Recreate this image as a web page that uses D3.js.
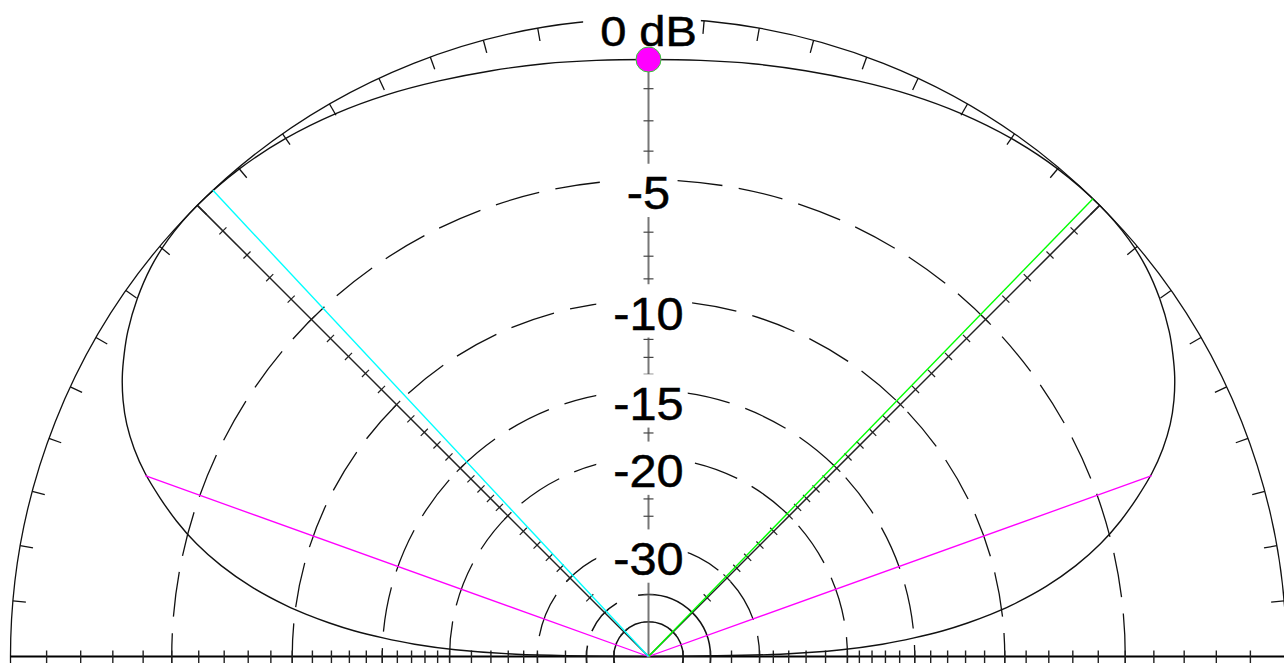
<!DOCTYPE html>
<html><head><meta charset="utf-8">
<script src="https://cdn.jsdelivr.net/npm/d3@7"></script>
<style>html,body{margin:0;padding:0;background:#fff;overflow:hidden}</style>
</head><body>
<svg id="chart" width="1284" height="663"></svg>
<script>
// ---------- data (elevation angle in degrees, 0 = right horizon, 180 = left horizon) ----------
const patternAngles = [0,1,2,3,4,5,6,7,8,10,12,14,16,18,20,22,24,26,28,30,32,35,38,41,45,50,55,60,65,70,75,80,85,90,
  95,100,105,110,115,120,125,130,135,139,142,145,148,150,152,154,156,158,160,162,164,166,168,170,172,173,174,175,176,177,178,179,180];
const patternDb = [-99,-27,-20.5,-17.2,-15.0,-13.2,-11.8,-10.6,-9.55,-7.85,-6.5,-5.4,-4.5,-3.72,-3.0,-2.4,-1.9,-1.5,-1.17,-0.9,-0.66,-0.38,-0.17,-0.05,0,-0.04,-0.15,-0.31,-0.5,-0.7,-0.87,-1.0,-1.1,-1.14,
  -1.1,-1.0,-0.87,-0.7,-0.5,-0.31,-0.15,-0.04,0,-0.05,-0.17,-0.38,-0.66,-0.9,-1.17,-1.5,-1.9,-2.4,-3.0,-3.72,-4.5,-5.4,-6.5,-7.85,-9.55,-10.6,-11.8,-13.2,-15.0,-17.2,-20.5,-27,-99];
const ringDashedDb = [-5,-10,-15,-20,-30];
const ringSolidDb = [-50];
const ringBrokenDb = [-40];
const ringLabels = ["0 dB","-5","-10","-15","-20","-30"];
const ringLabelDb = [0,-5,-10,-15,-20,-30];
const tickDb = [-1,-2,-3,-4,-5,-6,-7,-8,-9,-10,-11,-12,-13,-14,-15,-16,-17,-18,-19,-20,-22,-24,-26,-28,-30,-35,-40,-50];
const azimuthTicks = d3.range(5, 180, 5);
const gridRadials = [45, 135];
const maxBeamAngles = [45.84, 133.06];
const maxBeamColors = ["#00ff00", "#00ffff"];
const halfPowerAngles = [19.76, 160.24];
const halfPowerDb = -3.03;
const peakMarkerAngle = 90;
const peakMarkerDb = -1.14;

// ---------- geometry ----------
const W = 1284, H = 663, cx = 648.5, cy = 656.5, R = 638;
const svg = d3.select("#chart");
// ARRL log-periodic scale: each 2 dB => x0.89 radius  <=> power-law on linear power ratio
const rScale = d3.scalePow().exponent(-5 * Math.log10(0.89)).domain([0, 1]).range([0, R]);
const rOf = db => rScale(Math.pow(10, db / 10));
const aScale = d3.scaleLinear().domain([0, 180]).range([Math.PI / 2, -Math.PI / 2]);
const pt = (deg, r) => [cx + r * Math.sin(aScale(deg)), cy - r * Math.cos(aScale(deg))];

const g = svg.append("g");

// outer 0 dB circle
g.append("circle").attr("cx", cx).attr("cy", cy).attr("r", rOf(0))
  .attr("fill", "none").attr("stroke", "#111").attr("stroke-width", 1.3);

// azimuth ticks on outer circle (inward)
g.selectAll("line.az").data(azimuthTicks).join("line").attr("class", "az")
  .attr("x1", d => pt(d, R)[0]).attr("y1", d => pt(d, R)[1])
  .attr("x2", d => pt(d, R - 13)[0]).attr("y2", d => pt(d, R - 13)[1])
  .attr("stroke", "#111").attr("stroke-width", 1.3);

// dashed dB rings
g.selectAll("circle.dash").data(ringDashedDb).join("circle").attr("class", "dash")
  .attr("cx", cx).attr("cy", cy).attr("r", d => rOf(d))
  .attr("fill", "none").attr("stroke", "#111").attr("stroke-width", 1.3)
  .attr("stroke-dasharray", "45,16.5");
g.selectAll("circle.solid").data(ringSolidDb).join("circle").attr("class", "solid")
  .attr("cx", cx).attr("cy", cy).attr("r", d => rOf(d))
  .attr("fill", "none").attr("stroke", "#111").attr("stroke-width", 1.5);
g.selectAll("circle.broken").data(ringBrokenDb).join("circle").attr("class", "broken")
  .attr("cx", cx).attr("cy", cy).attr("r", d => rOf(d))
  .attr("fill", "none").attr("stroke", "#111").attr("stroke-width", 1.5)
  .attr("stroke-dasharray", "205.6,15.1,38,22.7,200");

// horizontal axis
g.append("line").attr("x1", cx - R).attr("y1", cy).attr("x2", W + 5).attr("y2", cy)
  .attr("stroke", "#000").attr("stroke-width", 2);
const hTicks = [];
tickDb.forEach(db => { hTicks.push(cx - rOf(db)); hTicks.push(cx + rOf(db)); });
g.selectAll("line.ht").data(hTicks).join("line").attr("class", "ht")
  .attr("x1", d => d).attr("x2", d => d).attr("y1", cy - 6).attr("y2", cy + 7)
  .attr("stroke", "#222").attr("stroke-width", 1.4);

// 45 degree grid radials with dB ticks
gridRadials.forEach(a => {
  const e = pt(a, R);
  g.append("line").attr("x1", cx).attr("y1", cy).attr("x2", e[0]).attr("y2", e[1])
    .attr("stroke", "#222").attr("stroke-width", 1.5);
  const ang = aScale(a);
  const px = Math.cos(ang), py = Math.sin(ang); // perpendicular direction
  g.selectAll(null).data(tickDb).join("line")
    .attr("x1", d => pt(a, rOf(d))[0] - 5 * px).attr("y1", d => pt(a, rOf(d))[1] - 5 * py)
    .attr("x2", d => pt(a, rOf(d))[0] + 5 * px).attr("y2", d => pt(a, rOf(d))[1] + 5 * py)
    .attr("stroke", "#222").attr("stroke-width", 1.2);
});

// vertical axis (to pattern peak marker)
const topR = rOf(peakMarkerDb);
g.append("line").attr("x1", cx).attr("y1", cy).attr("x2", cx).attr("y2", cy - topR)
  .attr("stroke", "#777").attr("stroke-width", 2);
g.selectAll("line.vt").data(tickDb.filter(d => rOf(d) < topR)).join("line").attr("class", "vt")
  .attr("x1", cx - 5).attr("x2", cx + 5)
  .attr("y1", d => cy - rOf(d)).attr("y2", d => cy - rOf(d))
  .attr("stroke", "#444").attr("stroke-width", 1.2);

// pattern
const patternData = patternAngles.map((a, i) => ({a: a, db: patternDb[i]}));
const radial = d3.lineRadial().angle(d => aScale(d.a)).radius(d => rOf(d.db))
  .curve(d3.curveCatmullRom.alpha(0.5));
g.append("path").attr("transform", `translate(${cx},${cy})`).attr("d", radial(patternData))
  .attr("fill", "none").attr("stroke", "#111").attr("stroke-width", 1.4);

// half power lines
g.selectAll("line.hp").data(halfPowerAngles).join("line").attr("class", "hp")
  .attr("x1", cx).attr("y1", cy)
  .attr("x2", d => pt(d, rOf(halfPowerDb))[0]).attr("y2", d => pt(d, rOf(halfPowerDb))[1])
  .attr("stroke", "#ff00ff").attr("stroke-width", 1.3);

// max beam lines
g.selectAll("line.mb").data(maxBeamAngles).join("line").attr("class", "mb")
  .attr("x1", cx).attr("y1", cy)
  .attr("x2", d => pt(d, R)[0]).attr("y2", d => pt(d, R)[1])
  .attr("stroke", (d, i) => maxBeamColors[i]).attr("stroke-width", 1.4);

// labels
ringLabels.forEach((txt, i) => {
  const yc = cy - rOf(ringLabelDb[i]);
  const isTop = i === 0;
  const fs = isTop ? 42 : 46;
  const sx = isTop ? 1.12 : 1.06;
  const digitTop = yc - (isTop ? 3 : 4);
  const digitH = isTop ? 30.5 : 33.3;
  const baseline = digitTop + digitH;
  const rect = g.append("rect").attr("fill", "#fff");
  const t = g.append("text").text(txt)
    .attr("transform", `translate(${cx},${baseline}) scale(${sx},1)`)
    .attr("text-anchor", "middle")
    .attr("font-family", "'Liberation Sans', Arial, sans-serif")
    .attr("font-size", fs).attr("fill", "#000")
    .attr("stroke", "#000").attr("stroke-width", 0.5);
  const bb = t.node().getBBox();
  rect.attr("x", cx + bb.x * sx - 17).attr("width", bb.width * sx + 21)
    .attr("y", digitTop - 12).attr("height", digitH + 20);
});

// peak marker
const pm = pt(peakMarkerAngle, topR);
g.append("circle").attr("cx", pm[0]).attr("cy", pm[1]).attr("r", 12.5)
  .attr("fill", "#ff00ff").attr("stroke", "#33cc33").attr("stroke-width", 1);
</script>
</body></html>
